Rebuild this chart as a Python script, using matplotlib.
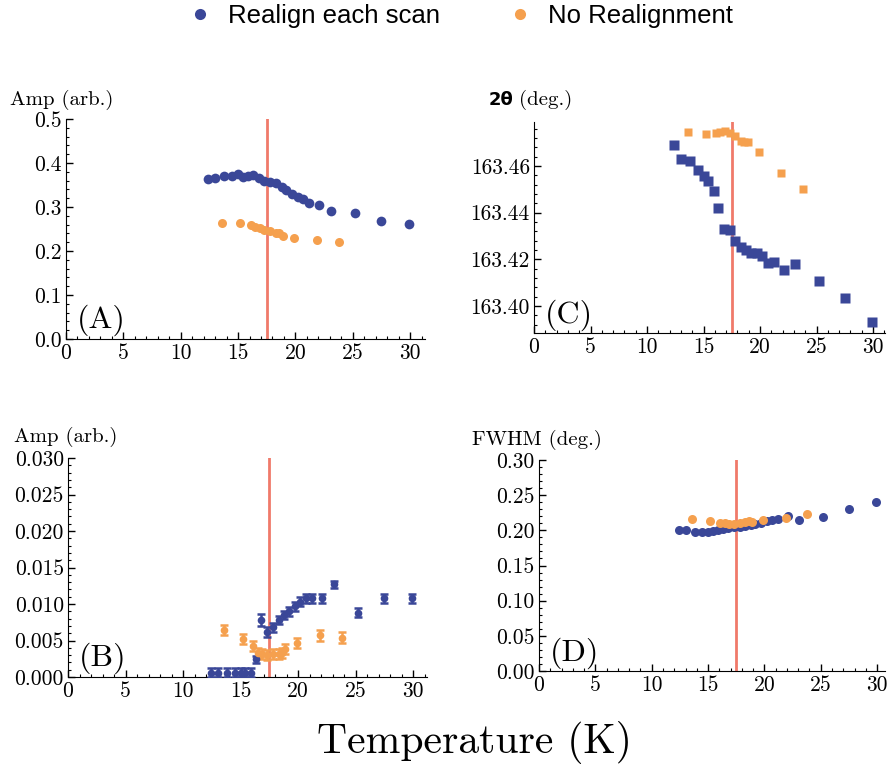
import matplotlib
matplotlib.use("Agg")
import matplotlib.pyplot as plt
from matplotlib.ticker import MultipleLocator, AutoMinorLocator, FixedLocator
from matplotlib.lines import Line2D
import numpy as np

plt.rcParams['font.family'] = ['cmr10', 'DejaVu Serif']
plt.rcParams['mathtext.fontset'] = 'cm'
plt.rcParams['axes.formatter.use_mathtext'] = True

# temperatures (K)
t_blue = [12.4, 13.0, 13.8, 14.5, 15.0, 15.4, 15.9, 16.3, 16.8, 17.3, 17.8, 18.3,
          18.8, 19.2, 19.7, 20.2, 20.7, 21.2, 22.1, 23.1, 25.2, 27.5, 29.9]
t_orange = [13.6, 15.2, 16.1, 16.5, 16.9, 17.3, 17.8, 18.3, 18.6, 18.9, 19.9, 21.9, 23.8]

# (A) amplitude
amp_blue = [0.364, 0.367, 0.371, 0.371, 0.374, 0.369, 0.371, 0.373, 0.365, 0.360, 0.357, 0.354,
            0.346, 0.339, 0.329, 0.322, 0.318, 0.308, 0.305, 0.291, 0.287, 0.268, 0.261]
amp_orange = [0.263, 0.263, 0.259, 0.255, 0.252, 0.248, 0.245, 0.242, 0.240, 0.233, 0.229, 0.225, 0.221]

# (C) 2theta
tth_blue = [163.4689, 163.4631, 163.4623, 163.4583, 163.4557, 163.4537, 163.4492, 163.4422,
            163.4330, 163.4326, 163.4280, 163.4252, 163.4240, 163.4226, 163.4229, 163.4215,
            163.4186, 163.4190, 163.4154, 163.4179, 163.4109, 163.4035, 163.3932]
tth_orange = [163.4747, 163.4738, 163.4740, 163.4744, 163.4750, 163.4740, 163.4730, 163.4706,
              163.4703, 163.4702, 163.4659, 163.4569, 163.4503]

# (B) second amplitude with errors
amp2_blue = [0.0006, 0.0006, 0.0006, 0.0006, 0.0006, 0.0006, 0.0006, 0.0024, 0.0078, 0.0062,
             0.0068, 0.0078, 0.0085, 0.0090, 0.0097, 0.0103, 0.0108, 0.0108, 0.0108, 0.0127,
             0.0088, 0.0108, 0.0108]
amp2_blue_err = [0.0006, 0.0006, 0.0006, 0.0006, 0.0006, 0.0006, 0.0006, 0.0005, 0.0008, 0.0007,
                 0.0006, 0.0006, 0.0006, 0.0006, 0.0006, 0.0006, 0.0006, 0.0006, 0.0006, 0.0005,
                 0.0006, 0.0006, 0.0006]
amp2_orange = [0.0064, 0.0052, 0.0042, 0.0033, 0.0031, 0.0030, 0.0031, 0.0032, 0.0033, 0.0038,
               0.0047, 0.0057, 0.0054]
amp2_orange_err = [0.0007] * 13

# (D) FWHM
fwhm_blue = [0.201, 0.200, 0.197, 0.197, 0.198, 0.199, 0.200, 0.202, 0.204, 0.205, 0.205, 0.206,
             0.207, 0.209, 0.211, 0.213, 0.215, 0.216, 0.221, 0.214, 0.219, 0.231, 0.240]
fwhm_orange = [0.216, 0.213, 0.211, 0.211, 0.209, 0.209, 0.210, 0.212, 0.213, 0.212, 0.214, 0.218, 0.223]

t_c = 17.5
blue = '#3a4798'
orange = '#f5a04e'
red = '#f07a6a'

W, H = 893, 769
fig = plt.figure(figsize=(W / 100, H / 100), dpi=100)


def axbox(l, r, b, t):
    return fig.add_axes([l / W, 1 - b / H, (r - l) / W, (b - t) / H])


def style(ax, xmax, ylim, yticks, ylabels):
    ax.set_xlim(0, xmax)
    ax.set_ylim(*ylim)
    ax.spines['top'].set_visible(False)
    ax.spines['right'].set_visible(False)
    ax.xaxis.set_major_locator(MultipleLocator(5))
    ax.xaxis.set_minor_locator(MultipleLocator(1))
    ax.yaxis.set_major_locator(FixedLocator(yticks))
    ax.set_yticklabels(ylabels)
    ax.set_xticklabels([str(int(v)) for v in ax.get_xticks()])
    ax.yaxis.set_minor_locator(AutoMinorLocator(5))
    ax.tick_params(direction='in', which='major', length=5, width=1, labelsize=15.5, pad=3)
    ax.tick_params(direction='in', which='minor', length=2.5, width=0.8)
    ax.axvline(t_c, color=red, lw=2, zorder=1)


# (A)
ax = axbox(66, 425, 339, 119)
ax.plot(t_blue, amp_blue, 'o', color=blue, ms=7, mec='none', zorder=3)
ax.plot(t_orange, amp_orange, 'o', color=orange, ms=6.5, mec='none', zorder=3)
style(ax, 31.3, (0, 0.5), [0, 0.1, 0.2, 0.3, 0.4, 0.5],
      ['0.0', '0.1', '0.2', '0.3', '0.4', '0.5'])
ax.text(0.03, 0.05, '(A)', transform=ax.transAxes, fontsize=23)
fig.text(10 / W, 1 - 100 / H, 'Amp (arb.)', fontsize=15, va='center')

# (C)
ax = axbox(534, 885, 333, 122)
ax.plot(t_blue, tth_blue, 's', color=blue, ms=6.5, mec='none', zorder=3)
ax.plot(t_orange, tth_orange, 's', color=orange, ms=6, mec='none', zorder=3)
style(ax, 31.06, (163.3884, 163.4789), [163.40, 163.42, 163.44, 163.46],
      ['163.40', '163.42', '163.44', '163.46'])
ax.text(0.03, 0.05, '(C)', transform=ax.transAxes, fontsize=23)
fig.text(489 / W, 1 - 100 / H, '2θ', fontsize=13, va='center',
         family='DejaVu Sans', weight='bold')
fig.text(519 / W, 1 - 100 / H, '(deg.)', fontsize=15, va='center')

# (B)
ax = axbox(68, 427, 677, 458)
ax.errorbar(t_blue, amp2_blue, yerr=amp2_blue_err, fmt='o', color=blue, ms=5.5, mec='none',
            elinewidth=1.8, capsize=2.8, capthick=1.8, zorder=3)
ax.errorbar(t_orange, amp2_orange, yerr=amp2_orange_err, fmt='o', color=orange, ms=5.5, mec='none',
            elinewidth=1.8, capsize=2.8, capthick=1.8, zorder=3)
style(ax, 31.2, (0, 0.030), [0, 0.005, 0.010, 0.015, 0.020, 0.025, 0.030],
      ['0.000', '0.005', '0.010', '0.015', '0.020', '0.025', '0.030'])
ax.text(0.03, 0.05, '(B)', transform=ax.transAxes, fontsize=23)
fig.text(14 / W, 1 - 437 / H, 'Amp (arb.)', fontsize=15, va='center')

# (D)
ax = axbox(539, 885, 671, 460)
ax.plot(t_blue, fwhm_blue, 'o', color=blue, ms=6.5, mec='none', zorder=3)
ax.plot(t_orange, fwhm_orange, 'o', color=orange, ms=6.5, mec='none', zorder=3)
style(ax, 30.7, (0, 0.30), [0, 0.05, 0.10, 0.15, 0.20, 0.25, 0.30],
      ['0.00', '0.05', '0.10', '0.15', '0.20', '0.25', '0.30'])
ax.text(0.03, 0.05, '(D)', transform=ax.transAxes, fontsize=23)
fig.text(472 / W, 1 - 440 / H, 'FWHM (deg.)', fontsize=15, va='center')

# common x label
fig.text(474 / W, 1 - 743 / H, 'Temperature (K)', fontsize=30, ha='center', va='center')

# legend
handles = [Line2D([], [], ls='none', marker='o', color=blue, mec='none', ms=8),
           Line2D([], [], ls='none', marker='o', color=orange, mec='none', ms=8)]
fig.legend(handles, ['Realign each scan', 'No Realignment'], loc='center',
           bbox_to_anchor=(460 / W, 1 - 16 / H), ncol=2, frameon=False,
           prop={'family': 'Liberation Sans', 'size': 18.5}, handletextpad=0.6,
           columnspacing=2.6, handlelength=1)

fig.savefig('out.png', dpi=100)
